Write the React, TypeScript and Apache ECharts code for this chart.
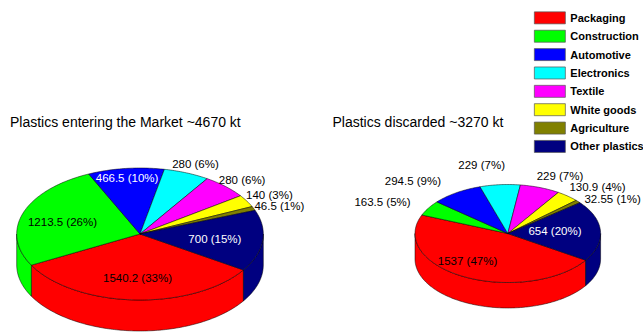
import React, { useEffect, useRef } from "react";
import * as echarts from "echarts";

// Sectors, in drawing order around each pie
const categories = [
  "Packaging",
  "Construction",
  "Automotive",
  "Electronics",
  "Textile",
  "White goods",
  "Agriculture",
  "Other plastics",
];

// Plastics entering the market (kt) and their shares (%)
const marketValues = [1540.2, 1213.5, 466.5, 280, 280, 140, 46.5, 700];
const marketPercents = [33, 26, 10, 6, 6, 3, 1, 15];

// Plastics discarded (kt) and their shares (%)
const discardedValues = [1537, 163.5, 294.5, 229, 229, 130.9, 32.55, 654];
const discardedPercents = [47, 5, 9, 7, 7, 4, 1, 20];

const pieTitles = ["Plastics entering the Market ~4670 kt", "Plastics discarded ~3270 kt"];

const sectorColors = [
  "#ff0000",
  "#00ff00",
  "#0000ff",
  "#00ffff",
  "#ff00ff",
  "#ffff00",
  "#808000",
  "#000080",
];
const darkSectors = [false, false, true, false, false, false, false, true];

const FONT = '"Liberation Sans", Arial, Helvetica, sans-serif';
// first slice begins at this angle (degrees, clockwise on screen from 3 o'clock)
const START_ANGLE = 33;

type PieLayout = {
  cx: number;
  cy: number;
  rx: number;
  ry: number;
  depth: number;
  labelR: number[];
  labelShift: number[];
};

const marketLayout: PieLayout = {
  cx: 140,
  cy: 234,
  rx: 123.3,
  ry: 66,
  depth: 31,
  labelR: [0.67, 0.656, 0.851, 1.151, 1.169, 1.208, 1.206, 0.613],
  labelShift: [-0.7, -2, -0.5, 0.8, 1.3, 0.3, 2.4, 1.7],
};

const discardedLayout: PieLayout = {
  cx: 507.8,
  cy: 233.5,
  rx: 92.8,
  ry: 49,
  depth: 25.5,
  labelR: [0.709, 1.498, 1.485, 1.426, 1.301, 1.351, 1.327, 0.511],
  labelShift: [10.1, -5.5, -9.9, -6.6, 5.2, 5.5, 9.1, -2.7],
};

function buildPieSeries(name: string, values: number[], percents: number[], layout: PieLayout) {
  const total = values.reduce((s, v) => s + v, 0);
  let acc = 0;
  const data = values.map((v) => {
    const item = [v, acc];
    acc += v;
    return item;
  });

  const renderItem = (params: any, api: any) => {
    const i = params.dataIndex;
    const v = api.value(0) as number;
    const before = api.value(1) as number;
    const a0 = START_ANGLE + (before / total) * 360;
    const a1 = a0 + (v / total) * 360;
    const { cx, cy, rx, ry, depth } = layout;
    const pt = (deg: number, r: number, dz: number) => {
      const t = (deg * Math.PI) / 180;
      return [cx + r * rx * Math.cos(t), cy + r * ry * Math.sin(t) + dz];
    };
    const arc = (from: number, to: number, dz: number) => {
      const n = Math.max(2, Math.ceil(to - from));
      const pts: number[][] = [];
      for (let k = 0; k <= n; k++) pts.push(pt(from + ((to - from) * k) / n, 1, dz));
      return pts;
    };
    const color = sectorColors[i];
    const children: any[] = [];

    // outer wall, only on the near half of the pie
    for (const [f0, f1] of [
      [0, 180],
      [360, 540],
    ]) {
      const s = Math.max(a0, f0);
      const e = Math.min(a1, f1);
      if (e > s) {
        const top = arc(s, e, 0);
        const bottom = arc(s, e, depth).reverse();
        children.push({
          type: "polygon",
          z2: 1,
          shape: { points: top.concat(bottom) },
          style: { fill: color, stroke: "#000", lineWidth: 0.5 },
        });
      }
    }

    // top face
    children.push({
      type: "polygon",
      z2: 2,
      shape: { points: [[cx, cy]].concat(arc(a0, a1, 0)) },
      style: { fill: color, stroke: "#000", lineWidth: 0.5, lineJoin: "round" },
    });

    // value label
    const mid = (a0 + a1) / 2 + layout.labelShift[i];
    const r = layout.labelR[i];
    const [lx, ly] = pt(mid, r, 0);
    children.push({
      type: "text",
      z2: 10,
      style: {
        text: `${values[i]} (${percents[i]}%)`,
        x: lx,
        y: ly,
        align: "center",
        verticalAlign: "middle",
        font: `11.5px ${FONT}`,
        fill: r < 1 && darkSectors[i] ? "#ffffff" : "#000000",
      },
    });

    return { type: "group", children };
  };

  return {
    type: "custom",
    name,
    coordinateSystem: "none",
    silent: true,
    data,
    renderItem,
  };
}

export default function App() {
  const ref = useRef<HTMLDivElement>(null);

  useEffect(() => {
    if (!ref.current) return;
    const chart = echarts.init(ref.current, undefined, { renderer: "svg" });

    // empty series that only feed the legend swatches
    const legendSeries = categories.map((c, i) => ({
      type: "custom",
      name: c,
      coordinateSystem: "none",
      data: [],
      itemStyle: { color: sectorColors[i] },
      renderItem: () => null,
    }));

    chart.setOption({
      animation: false,
      backgroundColor: "#ffffff",
      title: [
        {
          text: pieTitles[0],
          left: 10,
          top: 115,
          padding: 0,
          textStyle: { fontFamily: FONT, fontSize: 14, fontWeight: "normal", color: "#000" },
        },
        {
          text: pieTitles[1],
          left: 332.5,
          top: 114.5,
          padding: 0,
          textStyle: { fontFamily: FONT, fontSize: 14, fontWeight: "normal", color: "#000" },
        },
      ],
      legend: {
        orient: "vertical",
        left: 534,
        top: 11.5,
        padding: 0,
        itemWidth: 31,
        itemHeight: 12,
        itemGap: 5.67,
        icon: "rect",
        selectedMode: false,
        data: categories.map((c, i) => ({ name: c, itemStyle: { color: sectorColors[i] } })),
        itemStyle: { borderColor: "#555555", borderWidth: 0.7 },
        textStyle: {
          fontFamily: FONT,
          fontSize: 11,
          fontWeight: "bold",
          color: "#000",
          lineHeight: 12,
        },
      },
      series: [
        buildPieSeries("market", marketValues, marketPercents, marketLayout),
        buildPieSeries("discarded", discardedValues, discardedPercents, discardedLayout),
        ...legendSeries,
      ],
    });

    return () => chart.dispose();
  }, []);

  return (
    <div
      ref={ref}
      style={{ position: "absolute", left: 0, top: 0, width: 643, height: 332 }}
    />
  );
}
